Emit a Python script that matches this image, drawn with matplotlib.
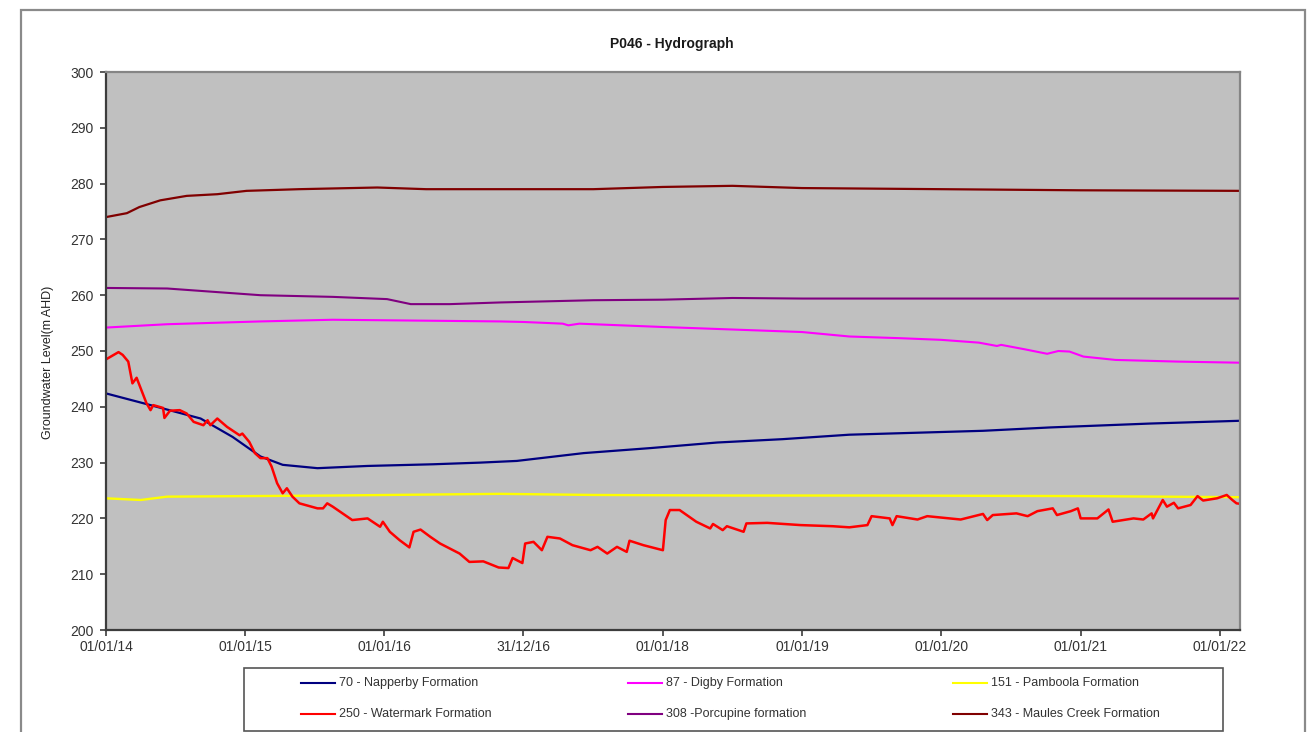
import datetime as dt

import matplotlib
matplotlib.use("Agg")
import matplotlib.pyplot as plt
from matplotlib.lines import Line2D
from matplotlib.patches import Rectangle

plt.rcParams["font.family"] = ["Liberation Sans", "DejaVu Sans"]

TITLE = "P046 - Hydrograph"
Y_LABEL = "Groundwater Level(m AHD)"
X_TICK_LABELS = ["01/01/14", "01/01/15", "01/01/16", "31/12/16", "01/01/18",
                 "01/01/19", "01/01/20", "01/01/21", "01/01/22"]
X_START = "2014-01-01"
X_END = "2022-02-23"
Y_MIN, Y_MAX, Y_STEP = 200, 300, 10

# Bore series: time as decimal year, level in m AHD
napperby_t = [2014.00, 2014.32, 2014.68, 2014.91, 2015.11, 2015.27, 2015.52, 2015.88,
              2016.35, 2016.69, 2016.95, 2017.43, 2017.91, 2018.39, 2018.86, 2019.34,
              2020.30, 2020.78, 2021.50, 2022.15]
napperby_v = [242.4, 240.3, 237.9, 234.6, 231.1, 229.6, 229.0, 229.4,
              229.7, 230.0, 230.3, 231.7, 232.6, 233.6, 234.2, 235.0,
              235.7, 236.3, 237.0, 237.5]

digby_t = [2014.00, 2014.44, 2015.11, 2015.63, 2016.83, 2017.00, 2017.28, 2017.32,
           2017.40, 2018.00, 2019.00, 2019.34, 2019.70, 2020.00, 2020.27, 2020.40,
           2020.43, 2020.60, 2020.76, 2020.84, 2020.92, 2021.02, 2021.25, 2021.70,
           2022.15]
digby_v = [254.2, 254.8, 255.3, 255.6, 255.3, 255.2, 254.9, 254.6,
           254.9, 254.3, 253.4, 252.6, 252.3, 252.0, 251.5, 250.9,
           251.1, 250.3, 249.5, 250.0, 249.9, 249.0, 248.4, 248.1,
           247.9]

pamboola_t = [2014.00, 2014.25, 2014.44, 2015.63, 2016.83, 2017.50, 2018.50, 2019.50,
              2021.00, 2022.15]
pamboola_v = [223.6, 223.3, 223.9, 224.1, 224.4, 224.2, 224.1, 224.1,
              224.0, 223.8]

watermark_t = [2014.00, 2014.09, 2014.12, 2014.16, 2014.19, 2014.22, 2014.29, 2014.32,
               2014.34, 2014.41, 2014.42, 2014.46, 2014.53, 2014.58, 2014.63, 2014.70,
               2014.73, 2014.75, 2014.80, 2014.87, 2014.96, 2014.98, 2015.03, 2015.07,
               2015.11, 2015.16, 2015.19, 2015.23, 2015.27, 2015.30, 2015.34, 2015.39,
               2015.52, 2015.56, 2015.59, 2015.63, 2015.70, 2015.77, 2015.88, 2015.97,
               2015.99, 2016.04, 2016.11, 2016.18, 2016.21, 2016.26, 2016.33, 2016.40,
               2016.47, 2016.54, 2016.61, 2016.71, 2016.82, 2016.89, 2016.92, 2016.99,
               2017.01, 2017.07, 2017.13, 2017.17, 2017.26, 2017.35, 2017.48, 2017.53,
               2017.60, 2017.67, 2017.74, 2017.76, 2017.86, 2018.00, 2018.02, 2018.05,
               2018.12, 2018.24, 2018.34, 2018.36, 2018.43, 2018.46, 2018.58, 2018.60,
               2018.75, 2018.99, 2019.22, 2019.34, 2019.47, 2019.50, 2019.63, 2019.65,
               2019.68, 2019.83, 2019.90, 2020.06, 2020.14, 2020.30, 2020.33, 2020.37,
               2020.54, 2020.62, 2020.69, 2020.80, 2020.83, 2020.93, 2020.98, 2021.00,
               2021.12, 2021.20, 2021.23, 2021.38, 2021.45, 2021.51, 2021.52, 2021.59,
               2021.62, 2021.67, 2021.70, 2021.79, 2021.84, 2021.88, 2021.98, 2022.05,
               2022.09, 2022.12, 2022.15]
watermark_v = [248.5, 249.8, 249.3, 248.1, 244.2, 245.2, 240.7, 239.4,
               240.3, 239.8, 238.0, 239.3, 239.4, 238.8, 237.3, 236.7,
               237.6, 236.7, 237.9, 236.4, 234.9, 235.2, 233.7, 231.7,
               230.8, 230.8, 229.3, 226.3, 224.5, 225.4, 223.9, 222.7,
               221.8, 221.8, 222.7, 222.1, 220.9, 219.7, 220.0, 218.5,
               219.4, 217.6, 216.1, 214.8, 217.6, 218.0, 216.7, 215.5,
               214.6, 213.7, 212.2, 212.3, 211.2, 211.1, 212.9, 212.0,
               215.5, 215.8, 214.3, 216.7, 216.4, 215.2, 214.3, 214.9,
               213.7, 214.9, 214.0, 216.0, 215.2, 214.3, 219.7, 221.5,
               221.5, 219.4, 218.2, 219.0, 217.9, 218.6, 217.6, 219.1,
               219.2, 218.8, 218.6, 218.4, 218.8, 220.4, 220.0, 218.8,
               220.4, 219.8, 220.4, 220.0, 219.8, 220.8, 219.7, 220.6,
               220.9, 220.4, 221.3, 221.8, 220.6, 221.3, 221.8, 220.0,
               220.0, 221.6, 219.4, 220.0, 219.8, 220.9, 220.0, 223.3,
               222.1, 222.8, 221.8, 222.4, 224.0, 223.2, 223.6, 224.2,
               223.3, 222.7, 222.6]

porcupine_t = [2014.00, 2014.44, 2015.11, 2015.63, 2016.02, 2016.19, 2016.47, 2016.83,
               2017.50, 2018.00, 2018.50, 2019.00, 2022.15]
porcupine_v = [261.3, 261.2, 260.0, 259.7, 259.3, 258.4, 258.4, 258.7,
               259.1, 259.2, 259.5, 259.4, 259.4]

maules_t = [2014.00, 2014.15, 2014.24, 2014.39, 2014.58, 2014.80, 2015.01, 2015.39,
            2015.95, 2016.30, 2017.50, 2018.00, 2018.50, 2019.00, 2020.00, 2021.00,
            2022.15]
maules_v = [274.0, 274.7, 275.8, 277.0, 277.8, 278.1, 278.7, 279.0,
            279.3, 279.0, 279.0, 279.4, 279.6, 279.2, 279.0, 278.8,
            278.7]

series_labels = ["70 - Napperby Formation", "87 - Digby Formation",
                 "151 - Pamboola Formation", "250 - Watermark Formation",
                 "308 -Porcupine formation", "343 - Maules Creek Formation"]
series_colors = ["#000080", "#FF00FF", "#FFFF00", "#FF0000", "#800080", "#800000"]
series_widths = [1.6, 1.5, 1.7, 1.8, 1.5, 1.6]
series_data = [(napperby_t, napperby_v), (digby_t, digby_v), (pamboola_t, pamboola_v),
               (watermark_t, watermark_v), (porcupine_t, porcupine_v), (maules_t, maules_v)]


def to_date(decimal_year):
    year = int(decimal_year)
    start = dt.datetime(year, 1, 1)
    days = (dt.datetime(year + 1, 1, 1) - start).days
    return start + dt.timedelta(days=(decimal_year - year) * days)


W, H = 1307, 732


def fx(px):
    return px / W


def fy(py):
    return 1 - py / H


fig = plt.figure(figsize=(W / 100, H / 100), dpi=100)
fig.patch.set_facecolor("white")

# outer chart frame
fig.add_artist(Rectangle((fx(21), fy(745)), fx(1305) - fx(21), fy(10) - fy(745),
                         transform=fig.transFigure, fill=False,
                         edgecolor="#8a8a8a", linewidth=1.6))

ax = fig.add_axes([fx(106), fy(630), fx(1240) - fx(106), fy(72) - fy(630)])
ax.set_facecolor("#C0C0C0")

for (t, v), color, lw in zip(series_data, series_colors, series_widths):
    ax.plot([to_date(x) for x in t], v, color=color, linewidth=lw,
            solid_joinstyle="round")

ax.set_xlim(dt.datetime.fromisoformat(X_START), dt.datetime.fromisoformat(X_END))
ax.set_ylim(Y_MIN, Y_MAX)
ax.set_yticks(range(Y_MIN, Y_MAX + 1, Y_STEP))
tick_dates = [dt.datetime.strptime(s, "%d/%m/%y") for s in X_TICK_LABELS]
ax.set_xticks(tick_dates)
ax.set_xticklabels(X_TICK_LABELS)

for side in ("left", "bottom"):
    ax.spines[side].set_color("#3c3c3c")
    ax.spines[side].set_linewidth(1.6)
for side in ("top", "right"):
    ax.spines[side].set_color("#858585")
    ax.spines[side].set_linewidth(1.6)

ax.tick_params(axis="both", direction="out", length=4, width=1.2, color="#3c3c3c",
               labelsize=10, labelcolor="#333333")
ax.tick_params(axis="y", pad=5)
ax.tick_params(axis="x", pad=3)

fig.text(fx(672), fy(44), TITLE, ha="center", va="center",
         fontsize=10, fontweight="bold", color="#1a1a1a")
fig.text(fx(48), fy(362), Y_LABEL, ha="center", va="center", rotation=90,
         fontsize=9, color="#222222")

# legend box with entries laid out in two rows of three
fig.add_artist(Rectangle((fx(244), fy(731)), fx(1223) - fx(244), fy(668) - fy(731),
                         transform=fig.transFigure, facecolor="white",
                         edgecolor="#555555", linewidth=1.2))
col_x = [301, 628, 953]
row_y = [683, 714]
for idx, label in enumerate(series_labels):
    row, col = divmod(idx, 3)
    x0 = col_x[col]
    y0 = row_y[row]
    fig.add_artist(Line2D([fx(x0), fx(x0 + 34)], [fy(y0), fy(y0)],
                          transform=fig.transFigure, color=series_colors[idx],
                          linewidth=1.5))
    fig.text(fx(x0 + 38), fy(y0), label, ha="left", va="center",
             fontsize=9, color="#333333")

fig.savefig("out.png", dpi=100, facecolor="white")
